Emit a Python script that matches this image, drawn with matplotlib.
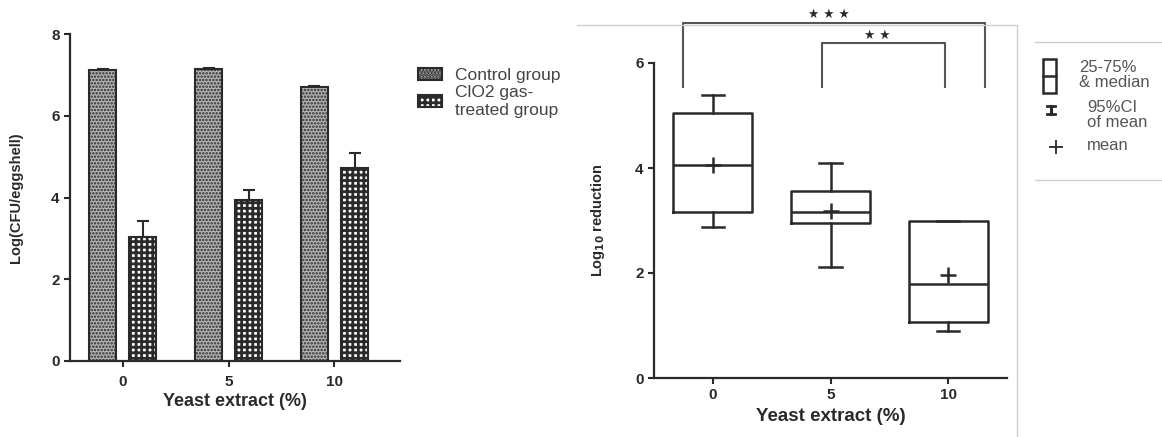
import numpy as np
import matplotlib
matplotlib.use('Agg')
import matplotlib.pyplot as plt
from matplotlib.lines import Line2D
from matplotlib.patches import Rectangle

plt.rcParams['font.family'] = ['Liberation Sans', 'DejaVu Sans']

# data
categories = ['0', '5', '10']
control = [7.12, 7.15, 6.70]
control_err = [0.03, 0.03, 0.02]
treated = [3.03, 3.93, 4.72]
treated_err = [0.39, 0.25, 0.38]

box_med = [4.06, 3.16, 1.80]
box_q1 = [3.16, 2.95, 1.07]
box_q3 = [5.05, 3.57, 3.00]
box_lo = [2.87, 2.12, 0.90]
box_hi = [5.39, 4.09, 3.00]
box_mean = [4.05, 3.18, 1.96]

dark = '#2a2a2a'
W, H = 1162, 437
fig = plt.figure(figsize=(W / 100, H / 100), dpi=100)

# ---- left panel: bars
ax1 = fig.add_axes([70 / W, 1 - 361 / H, 330 / W, 327 / H])
x = np.arange(len(categories))
off, bw = 0.19, 0.255
plt.rcParams['hatch.linewidth'] = 1.2
b1 = ax1.bar(x - off, control, bw, yerr=[[0] * 3, control_err], capsize=4,
             facecolor='#b4b4b4', edgecolor=dark, hatch='.....', linewidth=1.5,
             error_kw=dict(ecolor=dark, elinewidth=1.5, capthick=1.5),
             label='Control group')
plt.rcParams['hatch.linewidth'] = 2.0
b2 = ax1.bar(x + off, treated, bw, yerr=[[0] * 3, treated_err], capsize=4,
             facecolor='white', edgecolor=dark, hatch='+++', linewidth=1.5,
             error_kw=dict(ecolor=dark, elinewidth=1.5, capthick=1.5),
             label='ClO2 gas-\ntreated group')
ax1.set_xlim(-0.5, 2.62)
ax1.set_ylim(0, 8)
ax1.set_yticks([0, 2, 4, 6, 8])
ax1.set_xticks(x)
ax1.set_xticklabels(categories)
ax1.set_ylabel('Log(CFU/eggshell)', fontsize=10.5, fontweight='bold', color=dark, labelpad=20)
ax1.set_xlabel('Yeast extract (%)', fontsize=13, fontweight='bold', color=dark, labelpad=3)
leg = ax1.legend(handles=[b1, b2], loc='upper left', bbox_to_anchor=(409 / W, 1 - 59 / H),
                 bbox_transform=fig.transFigure, frameon=False, fontsize=12.5,
                 handlelength=1.4, handleheight=0.7, handletextpad=0.75,
                 labelspacing=0.1, borderpad=0)
for t in leg.get_texts():
    t.set_color('#444444')
    t.set_linespacing(1.3)

# ---- right panel: box plot
ax2 = fig.add_axes([654 / W, 1 - 378 / H, 353 / W, 315 / H])
stats = []
for i, c in enumerate(categories):
    stats.append(dict(label=c, med=box_med[i], q1=box_q1[i], q3=box_q3[i],
                      whislo=box_lo[i], whishi=box_hi[i], mean=box_mean[i], fliers=[]))
ax2.bxp(stats, positions=x, widths=0.67, capwidths=0.19, showmeans=True,
        boxprops=dict(color=dark, linewidth=1.8),
        medianprops=dict(color=dark, linewidth=1.8),
        whiskerprops=dict(color=dark, linewidth=1.8),
        capprops=dict(color=dark, linewidth=1.8),
        meanprops=dict(marker='+', markersize=12, markeredgecolor=dark, markeredgewidth=1.8))
ax2.set_xlim(-0.5, 2.5)
ax2.set_ylim(0, 6)
ax2.set_yticks([0, 2, 4, 6])
ax2.set_xticks(x)
ax2.set_xticklabels(categories)
ax2.set_ylabel('Log$_{\\mathbf{10}}$ reduction', fontsize=10.5, fontweight='bold', color=dark, labelpad=20)
ax2.set_xlabel('Yeast extract (%)', fontsize=13.5, fontweight='bold', color=dark, labelpad=4)

# significance brackets
br = '#555555'
ax2.plot([-0.25, -0.25, 2.31, 2.31], [5.54, 6.76, 6.76, 5.54], color=br, lw=1.5, clip_on=False)
ax2.plot([0.93, 0.93, 1.97, 1.97], [5.54, 6.38, 6.38, 5.54], color=br, lw=1.5, clip_on=False)
ax2.text(0.99, 6.93, '★ ★ ★', ha='center', va='center', fontsize=9, color=dark,
         family='DejaVu Sans')
ax2.text(1.40, 6.52, '★ ★', ha='center', va='center', fontsize=9, color=dark,
         family='DejaVu Sans')

for ax in (ax1, ax2):
    for s in ('top', 'right'):
        ax.spines[s].set_visible(False)
    for s in ('left', 'bottom'):
        ax.spines[s].set_linewidth(1.6)
        ax.spines[s].set_color(dark)
    ax.tick_params(axis='both', width=1.5, length=4, colors=dark, labelsize=11)
    for lab in ax.get_xticklabels() + ax.get_yticklabels():
        lab.set_fontweight('bold')
ax1.tick_params(axis='x', pad=6)

# faint frame lines
faint = '#cfcfcf'
fig.add_artist(Line2D([577 / W, 1017 / W], [1 - 25 / H, 1 - 25 / H], color=faint, lw=1))
fig.add_artist(Line2D([1017 / W, 1017 / W], [1 - 25 / H, 0], color=faint, lw=1))
fig.add_artist(Line2D([1035 / W, 1], [1 - 42 / H, 1 - 42 / H], color=faint, lw=1))
fig.add_artist(Line2D([1035 / W, 1], [1 - 180 / H, 1 - 180 / H], color=faint, lw=1))

# right legend
fig.add_artist(Rectangle((1043 / W, 1 - 93 / H), 13 / W, 34 / H, fill=False,
                         edgecolor=dark, lw=1.8))
fig.add_artist(Line2D([1043 / W, 1056 / W], [1 - 76 / H, 1 - 76 / H], color=dark, lw=1.8))
fig.add_artist(Line2D([1051 / W, 1051 / W], [1 - 106 / H, 1 - 114 / H], color=dark, lw=2.2))
fig.add_artist(Line2D([1047 / W, 1055 / W], [1 - 106 / H, 1 - 106 / H], color=dark, lw=2.0))
fig.add_artist(Line2D([1047 / W, 1055 / W], [1 - 114 / H, 1 - 114 / H], color=dark, lw=2.0))
fig.add_artist(Line2D([1056 / W], [1 - 147 / H], marker='+', markersize=10,
                      markeredgecolor=dark, markeredgewidth=1.3))
lt = dict(fontsize=12, color='#555555', va='center', ha='left', linespacing=0.95)
fig.text(1079 / W, 1 - 75 / H, '25-75%\n& median', **lt)
fig.text(1087 / W, 1 - 115 / H, '95%CI\nof mean', **lt)
fig.text(1087 / W, 1 - 146 / H, 'mean', **lt)

fig.savefig('out.png', dpi=100)
